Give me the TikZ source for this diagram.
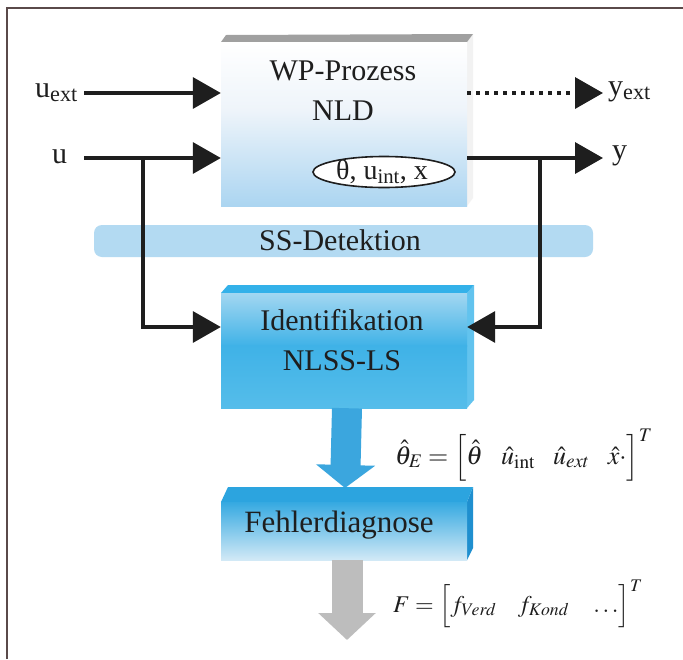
\documentclass[tikz,border=0pt]{standalone}
\usepackage{mathptmx}
\usepackage{fontspec}
\setmainfont{Liberation Serif}
\usetikzlibrary{arrows.meta,shapes.geometric}
\definecolor{ink}{HTML}{1E1E1E}
\definecolor{framec}{HTML}{5A4A4A}
\definecolor{wplight}{HTML}{EEF4FA}
\definecolor{wpblue}{HTML}{ABD5F1}
\definecolor{wptopc}{HTML}{A0A0A0}
\definecolor{wpsidec}{HTML}{F2F2F2}
\definecolor{ssblue}{HTML}{B3DAF2}
\definecolor{idtop}{HTML}{A3D7F1}
\definecolor{idmid}{HTML}{3FB2E7}
\definecolor{idbot}{HTML}{55BDEA}
\definecolor{idtopface}{HTML}{33B1E9}
\definecolor{idside}{HTML}{62C3EE}
\definecolor{fdtop}{HTML}{35A9E1}
\definecolor{fdbot}{HTML}{D2E9F6}
\definecolor{fdtopface}{HTML}{2CA4DF}
\definecolor{fdside}{HTML}{1F8FCF}
\definecolor{bluearr}{HTML}{3BA6DE}
\definecolor{greyarr}{HTML}{BDBDBD}
\begin{document}
\begin{tikzpicture}[x=1pt,y=-1pt,
  arr/.style={line width=3.5pt, draw=ink, -{Triangle[length=28pt,width=31pt]}},
  big/.style={font=\fontsize{30}{34}\selectfont, inner sep=0pt, text=ink},
  eq/.style={font=\fontsize{26}{30}\selectfont, inner sep=0pt, text=ink},
  facebox/.style={rectangle, inner sep=0pt, draw=none}]
\useasboundingbox (0,0) rectangle (683,659);
\fill[white] (0,0) rectangle (683,659);
\draw[framec, line width=1.5pt] (7,659) -- (7,8) -- (683,8);

% SS-Detektion bar
\node[facebox, rounded corners=8pt, fill=ssblue, minimum width=499pt, minimum height=32pt] (ss) at (343.5,241) {};
\node[big, anchor=base] (sst) at (340,250) {SS-Detektion};

% WP-Prozess box
\fill[wpsidec] (467,42) -- (473,34) -- (473,198) -- (467,206) -- cycle;
\fill[wptopc] (221,42) -- (226,35) -- (473,34) -- (467,42) -- cycle;
\shade[top color=white, bottom color=wplight] (221,42) rectangle (467,111);
\shade[top color=wplight, bottom color=wpblue] (221,110) rectangle (467,206);
\node[facebox, minimum width=246pt, minimum height=164pt] (wp) at (344,124) {};
\node[big, anchor=base] (wpt) at (343,80) {WP-Prozess};
\node[big, anchor=base] (nld) at (343,120) {NLD};
\node[ellipse, draw=ink, line width=1.6pt, fill=white, minimum width=142pt, minimum height=31pt, inner sep=0pt] (st) at (384,172) {};
\node[font=\fontsize{28}{30}\selectfont, inner sep=0pt, text=ink] (stt) at (382,172) {θ, u\textsubscript{int}, x};

% Identifikation box
\fill[idside] (467,293) -- (474,285) -- (474,400) -- (467,408) -- cycle;
\fill[idtopface] (221,293) -- (228,285) -- (474,285) -- (467,293) -- cycle;
\shade[top color=idtop, bottom color=idmid] (221,293) rectangle (467,346);
\shade[top color=idmid, bottom color=idbot] (221,345) rectangle (467,408);
\node[facebox, minimum width=246pt, minimum height=115pt] (id) at (344,350.5) {};
\node[big, anchor=base] (idt) at (342,330) {Identifikation};
\node[big, anchor=base] (idt2) at (342,370) {NLSS-LS};

% blue arrow
\draw[bluearr, line width=30pt, -{Triangle[length=23pt,width=58pt]}] ([xshift=3pt]id.south) -- ([xshift=1pt,yshift=14pt]id.south |- 0,502);

% Fehlerdiagnose box
\fill[fdside] (467,502) -- (473,487) -- (473,548) -- (467,560) -- cycle;
\fill[fdtopface] (221,502) -- (228,487) -- (473,487) -- (467,502) -- cycle;
\node[facebox, top color=fdtop, bottom color=fdbot, minimum width=246pt, minimum height=58pt] (fd) at (344,531) {};
\node[big, anchor=base, font=\fontsize{31}{34}\selectfont] (fdt) at (339,532) {Fehlerdiagnose};

% grey arrow
\coordinate (Fout) at (347,640);
\draw[greyarr, line width=31pt, -{Triangle[length=27pt,width=56pt]}] ([xshift=3pt]fd.south) -- (Fout);

% inputs / outputs
\coordinate (uextS) at (84,93);
\coordinate (uS) at (84,158);
\coordinate (uB) at (143,158);
\coordinate (yextE) at (603,93);
\coordinate (yE) at (603,158);
\coordinate (yB) at (540,158);
\node[big, anchor=base west] (uext) at (35,97) {u\textsubscript{ext}};
\node[big, anchor=base west] (ul) at (52,163) {u};
\node[big, anchor=base west] (yext) at (608,95) {y\textsubscript{ext}};
\node[big, anchor=base west] (yl) at (612,159) {y};

\draw[arr] (uextS) -- (wp.west |- uextS);
\draw[arr] (uS) -- (wp.west |- uS);
\draw[arr] (uB) |- ([yshift=23.5pt]id.west);
\draw[arr, dash pattern=on 4pt off 5pt] (wp.east |- yextE) -- (yextE);
\draw[arr] (wp.east |- yE) -- (yE);
\draw[arr] (yB) |- ([yshift=23.5pt]id.east);

% equations
\node[eq, anchor=base west] (eq1) at (395,464) {$\hat\theta_E = \Bigl[\hat\theta \hspace{0.7em} \hat u_{\mathrm{int}} \hspace{0.7em} \hat u_{ext} \hspace{0.7em} \hat x\cdot \Bigr]^T$};
\node[eq, anchor=base west, font=\fontsize{24}{28}\selectfont] (eq2) at (393,612) {$F = \Bigl[f_{Verd} \hspace{0.9em} f_{Kond} \hspace{0.9em} \ldots\Bigr]^T$};
\end{tikzpicture}
\end{document}
